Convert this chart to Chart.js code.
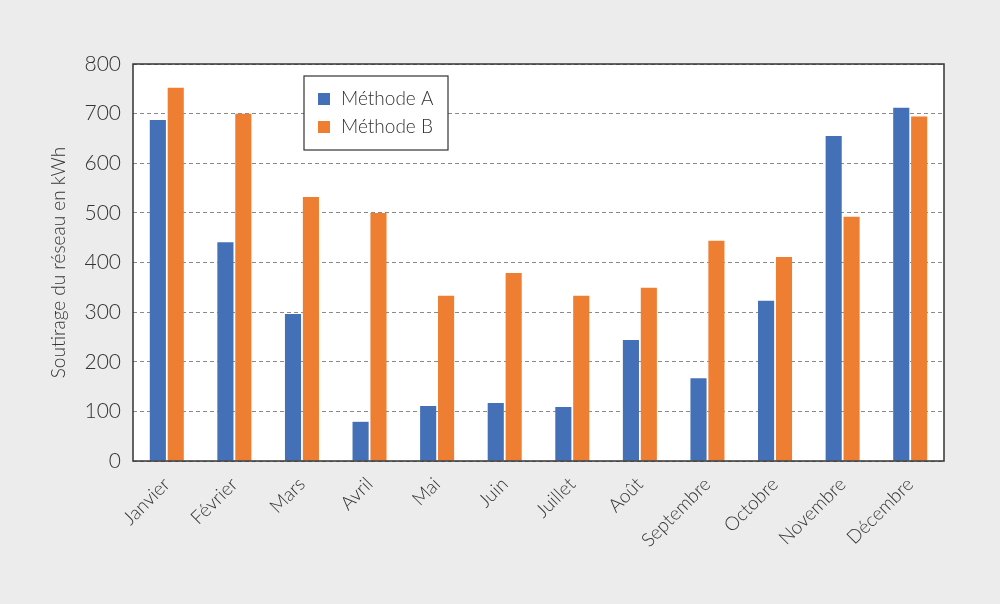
<!DOCTYPE html>
<html>
<head>
<meta charset="utf-8">
<script src="https://cdn.jsdelivr.net/npm/chart.js@4"></script>
<style>
  html, body { margin: 0; padding: 0; background: #ececec; }
  #wrap { width: 1000px; height: 604px; position: relative; }
</style>
</head>
<body>
<div id="wrap"><canvas id="grafico" width="1000" height="604"></canvas></div>
<script>
const mois = ['Janvier','Février','Mars','Avril','Mai','Juin','Juillet','Août','Septembre','Octobre','Novembre','Décembre'];
const methodeA = [687, 441, 296, 79, 111, 117, 109, 244, 167, 323, 655, 712];
const methodeB = [752, 700, 532, 500, 333, 379, 333, 349, 444, 411, 492, 694];
const ticksY = [0, 100, 200, 300, 400, 500, 600, 700, 800];

const police = 'Lato, "Noto Sans", sans-serif';

// fond blanc de la zone de tracé + cadre + légende dans le graphique
const cadre = {
  id: 'cadre',
  beforeDraw(chart) {
    const { ctx, chartArea: a } = chart;
    ctx.save();
    ctx.fillStyle = '#ffffff';
    ctx.fillRect(a.left, a.top, a.right - a.left, a.bottom - a.top);
    ctx.restore();
  },
  afterDraw(chart) {
    const { ctx, chartArea: a } = chart;
    ctx.save();
    ctx.strokeStyle = '#333333';
    ctx.lineWidth = 1.5;
    ctx.strokeRect(a.left, a.top, a.right - a.left, a.bottom - a.top);

    // légende
    const x = a.left + 171, y = a.top + 12, w = 144, h = 74;
    ctx.fillStyle = '#ffffff';
    ctx.fillRect(x, y, w, h);
    ctx.lineWidth = 1.2;
    ctx.strokeRect(x, y, w, h);
    ctx.font = '300 19px ' + police;
    ctx.textBaseline = 'middle';
    chart.data.datasets.forEach((ds, i) => {
      const ly = y + 23 + i * 28;
      ctx.fillStyle = ds.backgroundColor;
      ctx.fillRect(x + 14, ly - 6, 12, 12);
      ctx.fillStyle = '#333333';
      ctx.fillText(ds.label, x + 37, ly);
    });
    ctx.restore();
  }
};

const ctx = document.querySelector('#grafico');

new Chart(ctx, {
  type: 'bar',
  data: {
    labels: mois,
    datasets: [
      { label: 'Méthode A', data: methodeA, backgroundColor: '#4470b8' },
      { label: 'Méthode B', data: methodeB, backgroundColor: '#ee7f32' }
    ]
  },
  options: {
    responsive: false,
    animation: false,
    devicePixelRatio: 1,
    layout: { padding: { top: 64, right: 56, bottom: 0, left: 0 } },
    datasets: { bar: { barPercentage: 0.9, categoryPercentage: 0.53 } },
    plugins: {
      legend: { display: false },
      tooltip: { enabled: false }
    },
    scales: {
      x: {
        grid: { display: false },
        border: { display: false },
        ticks: {
          color: '#333333',
          font: { family: police, size: 19, weight: 300 },
          maxRotation: 45,
          minRotation: 45,
          padding: 4
        },
        afterFit(s) { s.height = 143; }
      },
      y: {
        min: 0,
        max: 800,
        afterBuildTicks(s) { s.ticks = ticksY.map(v => ({ value: v })); },
        grid: {
          color: '#8a8a8a',
          lineWidth: 1,
          drawTicks: false
        },
        border: { display: false, dash: [4, 3] },
        ticks: {
          color: '#333333',
          font: { family: police, size: 21, weight: 300 },
          padding: 12
        },
        title: {
          display: true,
          text: 'Soutirage du réseau en kWh',
          color: '#333333',
          font: { family: police, size: 19, weight: 300 },
          padding: { top: 47, bottom: 6 }
        },
        afterFit(s) { s.width = 133; }
      }
    }
  },
  plugins: [cadre]
});
</script>
</body>
</html>
